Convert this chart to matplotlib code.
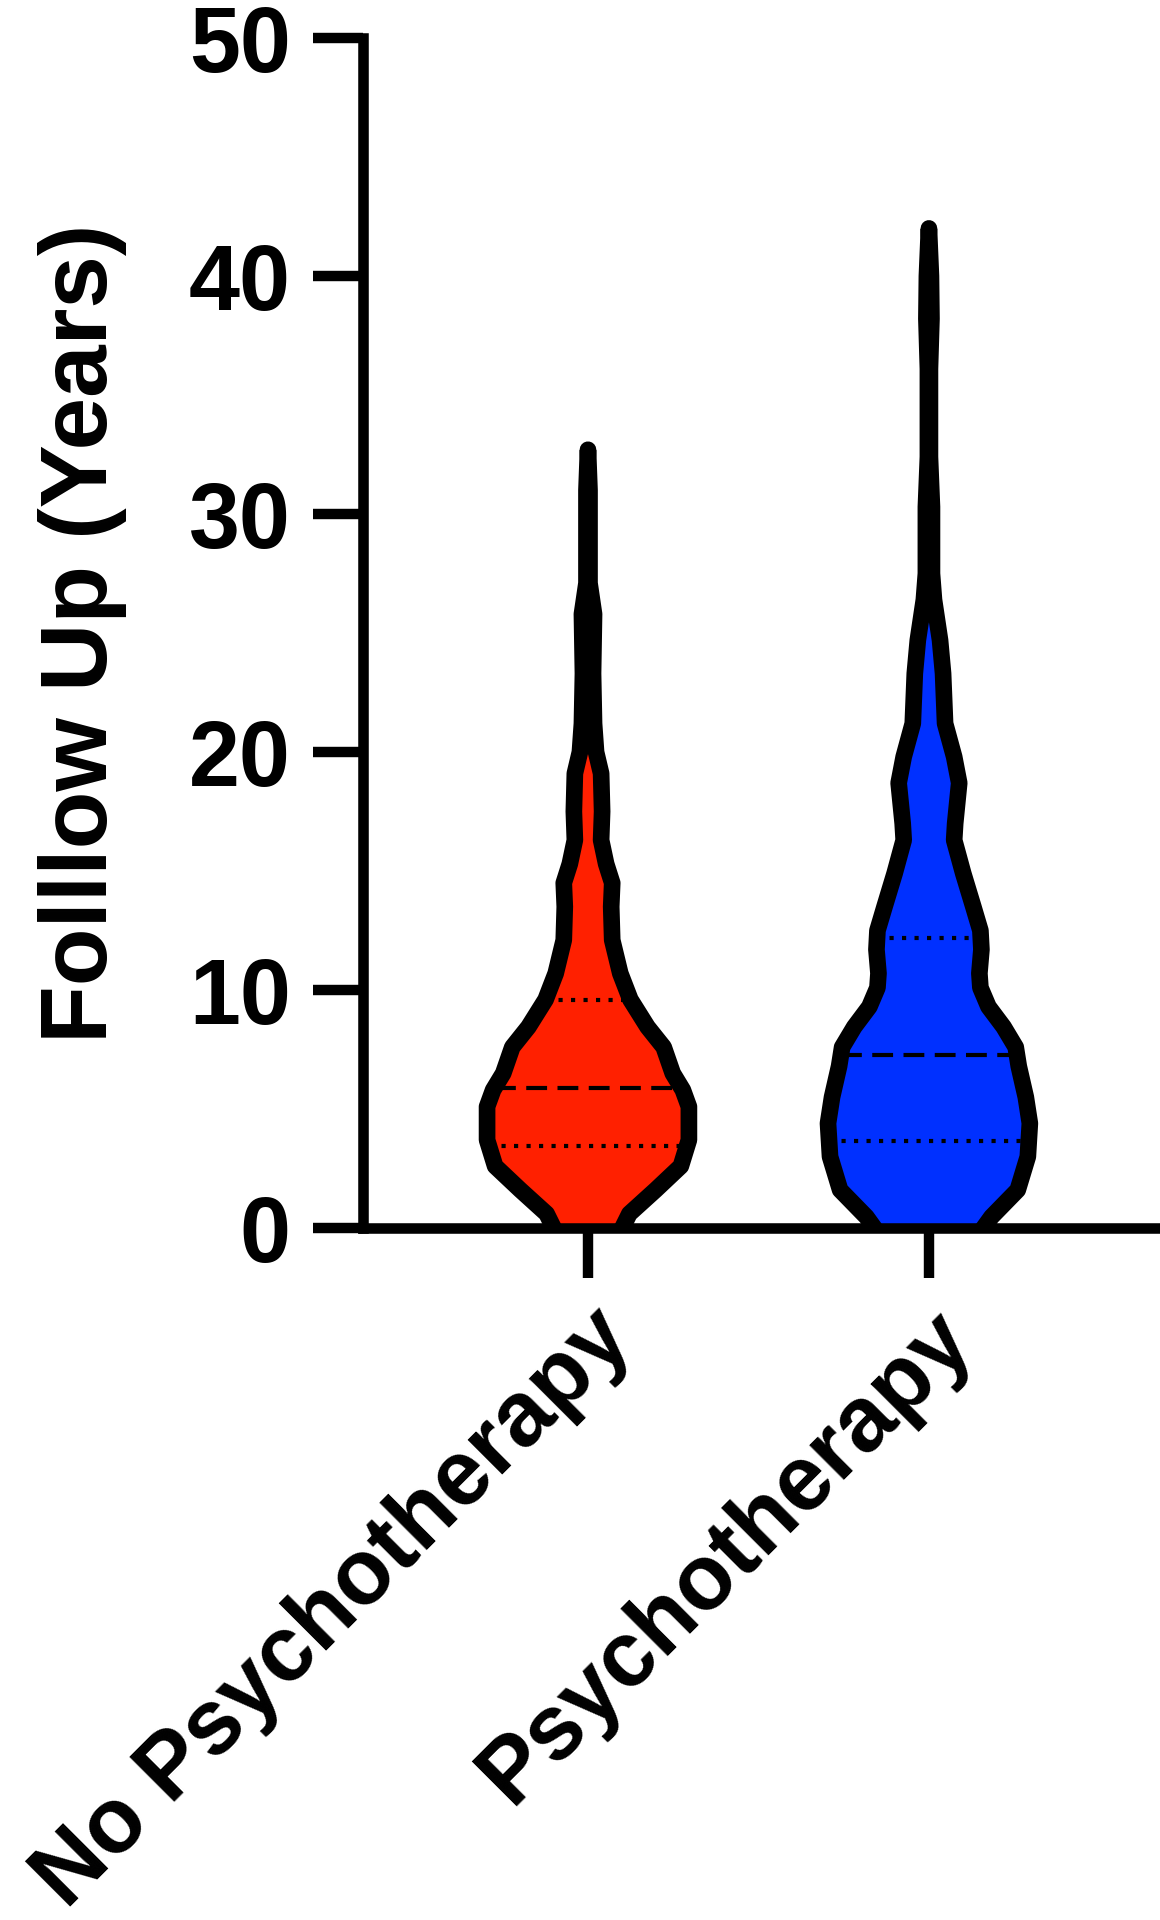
import numpy as np
import matplotlib
matplotlib.use('Agg')
import matplotlib.pyplot as plt

plt.rcParams['font.family'] = ['Liberation Sans', 'DejaVu Sans']
plt.rcParams['font.weight'] = 'bold'

groups = ['No Psychotherapy', 'Psychotherapy']
colors = ['#ff2000', '#0030ff']

# violin outlines: follow-up years and half width relative to the widest point
red_years = [0.0, 0.6, 1.6, 2.6, 3.7, 5.1, 5.8, 6.5, 7.6, 8.45, 9.6, 10.7, 12.1, 13.5, 14.5,
             15.3, 16.3, 17.5, 19.1, 20.0, 21.2, 23.3, 25.8, 27.1, 28.9, 31.0, 32.7]
red_width = [0.34, 0.41, 0.67, 0.92, 1.00, 1.00, 0.94, 0.84, 0.75, 0.59, 0.42, 0.32, 0.24, 0.23, 0.24,
             0.18, 0.13, 0.14, 0.13, 0.08, 0.06, 0.05, 0.06, 0.015, 0.015, 0.015, 0.0]

blue_years = [0.0, 0.47, 1.6, 3.0, 4.4, 5.5, 6.8, 7.6, 8.45, 9.3, 10.1, 10.7, 11.7, 12.5, 13.5,
              14.9, 16.3, 17.0, 18.7, 19.8, 21.2, 23.3, 24.7, 26.4, 27.5, 30.3, 32.4, 36.1, 38.2,
              40.0, 42.0]
blue_width = [0.54, 0.62, 0.88, 0.98, 1.00, 0.96, 0.89, 0.86, 0.74, 0.59, 0.51, 0.50, 0.52, 0.51, 0.44,
              0.34, 0.25, 0.26, 0.30, 0.25, 0.16, 0.14, 0.11, 0.05, 0.03, 0.03, 0.01, 0.01, 0.025,
              0.02, 0.0]

# quartiles (Q1, median, Q3)
red_q = [3.45, 5.9, 9.6]
blue_q = [3.66, 7.27, 12.2]

yticks = [0, 10, 20, 30, 40, 50]

fig = plt.figure(figsize=(11.6, 19.2), dpi=100)
ax = fig.add_axes([0.3129, 0.3604, 0.686, 0.6198])

half = 0.296  # widest half width in category units
data = [(red_years, red_width, red_q), (blue_years, blue_width, blue_q)]
for i, (yrs, w, q) in enumerate(data):
    pos = i + 1
    yrs = np.array(yrs)
    hw = np.array(w) * half
    ax.fill_betweenx(yrs, pos - hw, pos + hw, color=colors[i], lw=0, zorder=1)
    for qv, dash in zip(q, [(1, 2), (5, 2.5), (1, 2)]):
        h = np.interp(qv, yrs, hw)
        ax.plot([pos - h, pos + h], [qv, qv], color='k', lw=3, dashes=dash,
                dash_capstyle='butt', zorder=2)
    xs = np.concatenate([pos - hw, (pos + hw)[::-1]])
    ys = np.concatenate([yrs, yrs[::-1]])
    ax.plot(xs, ys, color='k', lw=12, solid_joinstyle='round', solid_capstyle='round', zorder=3)

ax.set_xlim(0.34, 2.674)
ax.set_ylim(0, 50)
ax.set_yticks(yticks)
ax.set_xticks([1, 2])
ax.set_xticklabels(groups, rotation=45, ha='right', rotation_mode='anchor')

for s in ['top', 'right']:
    ax.spines[s].set_visible(False)
for s in ['left', 'bottom']:
    ax.spines[s].set_linewidth(7.6)
ax.tick_params(axis='both', direction='out', length=36, width=7.5, labelsize=66)
ax.tick_params(axis='y', pad=16)
ax.tick_params(axis='x', pad=12)
for lab in ax.get_xticklabels() + ax.get_yticklabels():
    lab.set_fontweight('bold')

ax.set_ylabel('Folllow Up (Years)', fontsize=68, fontweight='bold')
ax.yaxis.set_label_coords(-0.353, 0.5)
ax.yaxis.label.set_verticalalignment('center')

fig.savefig('out.png', dpi=100)
